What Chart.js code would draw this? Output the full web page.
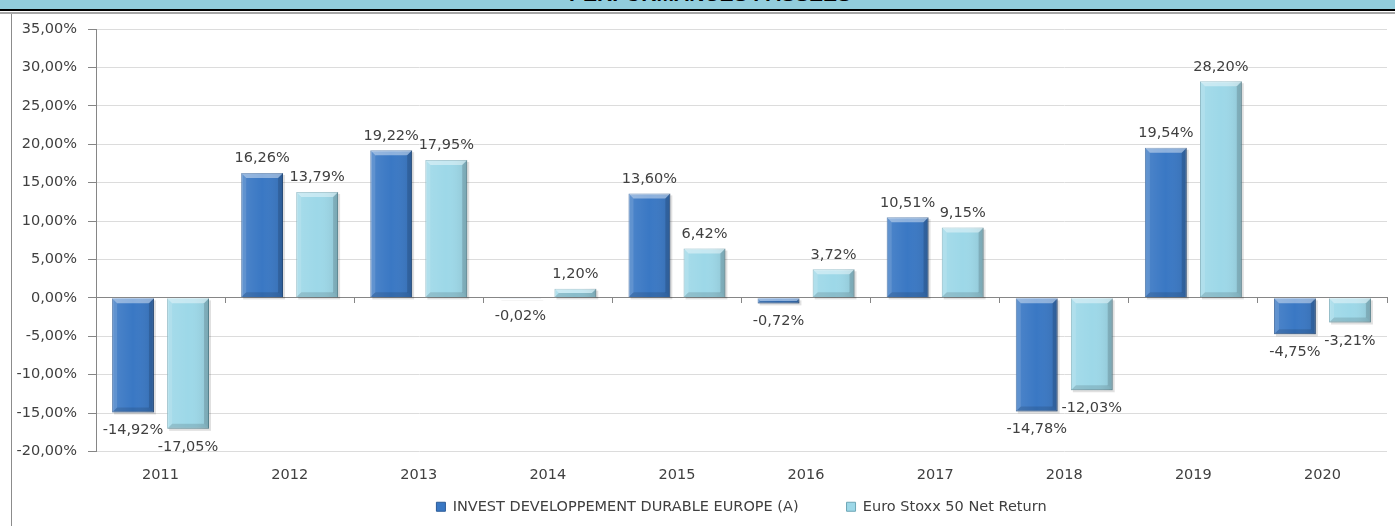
<!DOCTYPE html>
<html>
<head>
<meta charset="utf-8">
<script src="https://cdn.jsdelivr.net/npm/chart.js@4/dist/chart.umd.min.js"></script>
<style>
  html, body { margin: 0; padding: 0; background: #fff; }
  body { width: 1395px; height: 526px; position: relative; overflow: hidden; }
  #band { position: absolute; left: 0; top: 0; width: 1395px; height: 9px; background: #92cddc; overflow: hidden; }
  #title { position: absolute; left: 25px; right: 0; top: -18px; line-height: 21px; text-align: center;
           font: bold 21px "Liberation Sans", Arial, sans-serif; color: #000; white-space: nowrap; }
  #rule1 { position: absolute; left: 0; top: 9px; width: 1395px; height: 2px; background: #000; }
  #rule2 { position: absolute; left: 0; top: 12px; width: 1395px; height: 2px; background: #a6a6a6; }
  #frame { position: absolute; left: 11px; top: 14px; width: 1px; height: 512px; background: #8c8c8c; }
  #wrap { position: absolute; left: 13px; top: 15px; width: 1382px; height: 511px; }
</style>
</head>
<body>
<div id="band"><div id="title">PERFORMANCES PASSEES</div></div>
<div id="rule1"></div>
<div id="rule2"></div>
<div id="frame"></div>
<div id="wrap"><canvas id="perfChart"></canvas></div>
<script>
const YEARS = ['2011', '2012', '2013', '2014', '2015', '2016', '2017', '2018', '2019', '2020'];
const FUND_LABEL = 'INVEST DEVELOPPEMENT DURABLE EUROPE (A)';
const INDEX_LABEL = 'Euro Stoxx 50 Net Return';
const FUND_PERF = [-14.92, 16.26, 19.22, -0.02, 13.60, -0.72, 10.51, -14.78, 19.54, -4.75];
const INDEX_PERF = [-17.05, 13.79, 17.95, 1.20, 6.42, 3.72, 9.15, -12.03, 28.20, -3.21];
const Y_MIN = -20, Y_MAX = 35, Y_STEP = 5;

const TEXT = '#404040';
const AXIS = '#868686';
const FONT = '"DejaVu Sans", Verdana, sans-serif';
Chart.defaults.font.family = FONT;
Chart.defaults.font.size = 14.5;
Chart.defaults.color = TEXT;

const fmtPct = v => v.toFixed(2).replace('.', ',') + '%';

// shadow behind each bar, then bevel over it (Excel 3D look)
const bevel = {
  id: 'bevel',
  beforeDatasetsDraw(chart) {
    const ctx = chart.ctx;
    ctx.save();
    chart.data.datasets.forEach((ds, i) => {
      chart.getDatasetMeta(i).data.forEach(bar => {
        const l = bar.x - bar.width / 2, t = Math.min(bar.y, bar.base);
        const h = Math.abs(bar.base - bar.y);
        ctx.fillStyle = 'rgba(0,0,0,0.12)';
        ctx.fillRect(l + 2, t + 2, bar.width, h);
      });
    });
    ctx.restore();
  },
  afterDatasetsDraw(chart) {
    const ctx = chart.ctx;
    ctx.save();
    chart.data.datasets.forEach((ds, i) => {
      chart.getDatasetMeta(i).data.forEach(bar => {
        const l = bar.x - bar.width / 2, r = bar.x + bar.width / 2;
        const t = Math.min(bar.y, bar.base), b = Math.max(bar.y, bar.base);
        const e = Math.min(5, (b - t) / 2);
        if (e <= 0.3) return;
        const shade = ctx.createLinearGradient(l, 0, r, 0);
        shade.addColorStop(0, 'rgba(255,255,255,0.10)');
        shade.addColorStop(0.5, 'rgba(255,255,255,0)');
        shade.addColorStop(1, 'rgba(0,0,0,0.10)');
        ctx.fillStyle = shade;
        ctx.fillRect(l, t, r - l, b - t);
        const poly = (pts, col) => {
          ctx.beginPath();
          ctx.moveTo(pts[0][0], pts[0][1]);
          pts.slice(1).forEach(p => ctx.lineTo(p[0], p[1]));
          ctx.closePath();
          ctx.fillStyle = col;
          ctx.fill();
        };
        poly([[l, t], [r, t], [r - e, t + e], [l + e, t + e]], 'rgba(255,255,255,0.42)');
        poly([[l, t], [l + e, t + e], [l + e, b - e], [l, b]], 'rgba(255,255,255,0.12)');
        poly([[r, t], [r, b], [r - e, b - e], [r - e, t + e]], 'rgba(0,0,0,0.14)');
        poly([[l, b], [l + e, b - e], [r - e, b - e], [r, b]], 'rgba(0,0,0,0.12)');
      });
    });
    ctx.restore();
  }
};

const valueLabels = {
  id: 'valueLabels',
  afterDatasetsDraw(chart) {
    const ctx = chart.ctx;
    ctx.save();
    ctx.font = '14.5px ' + FONT;
    ctx.fillStyle = TEXT;
    ctx.textAlign = 'center';
    chart.data.datasets.forEach((ds, i) => {
      chart.getDatasetMeta(i).data.forEach((bar, j) => {
        const v = ds.data[j];
        if (v >= 0) {
          ctx.textBaseline = 'bottom';
          ctx.fillText(fmtPct(v), bar.x, bar.y - 7);
        } else {
          ctx.textBaseline = 'top';
          ctx.fillText(fmtPct(v), bar.x, bar.y + 11);
        }
      });
    });
    ctx.restore();
  }
};

new Chart(document.getElementById('perfChart'), {
  type: 'bar',
  data: {
    labels: YEARS,
    datasets: [
      { label: FUND_LABEL, data: FUND_PERF, xAxisID: 'x', yAxisID: 'y',
        backgroundColor: '#3a78c4', borderColor: '#2c5c98', borderWidth: 1,
        categoryPercentage: 0.853, barPercentage: 0.76 },
      { label: INDEX_LABEL, data: INDEX_PERF, xAxisID: 'x', yAxisID: 'y',
        backgroundColor: '#9dd8e8', borderColor: '#6ea7b6', borderWidth: 1,
        categoryPercentage: 0.853, barPercentage: 0.76 },
    ],
  },
  options: {
    responsive: true,
    maintainAspectRatio: false,
    animation: false,
    layout: { padding: { top: 14, right: 8, bottom: 2, left: 0 } },
    plugins: {
      legend: {
        position: 'bottom',
        fullSize: false,
        labels: { boxWidth: 9, boxHeight: 9, padding: 48, color: TEXT, font: { size: 14.5 } },
      },
      tooltip: { enabled: false },
    },
    scales: {
      y: {
        position: 'left',
        min: Y_MIN, max: Y_MAX,
        ticks: { stepSize: Y_STEP, padding: 11, color: TEXT, callback: v => fmtPct(v) },
        grid: { color: '#dcdcdc', tickColor: AXIS, tickLength: 8 },
        border: { display: true, color: AXIS },
        afterFit: s => { s.width = 83; s.paddingTop = 0; s.paddingBottom = 0; },
      },
      x: {
        type: 'category',
        position: { y: 0 },
        offset: true,
        ticks: { display: false },
        grid: { offset: true, drawOnChartArea: false, drawTicks: true, tickLength: 5, tickColor: AXIS },
        border: { display: true, color: AXIS },
      },
      x2: {
        type: 'category',
        axis: 'x',
        position: { y: Y_MIN },
        offset: true,
        grid: { display: false, drawTicks: false },
        border: { display: false },
        ticks: { padding: 15, color: TEXT },
      },
    },
  },
  plugins: [bevel, valueLabels],
});
</script>
</body>
</html>
